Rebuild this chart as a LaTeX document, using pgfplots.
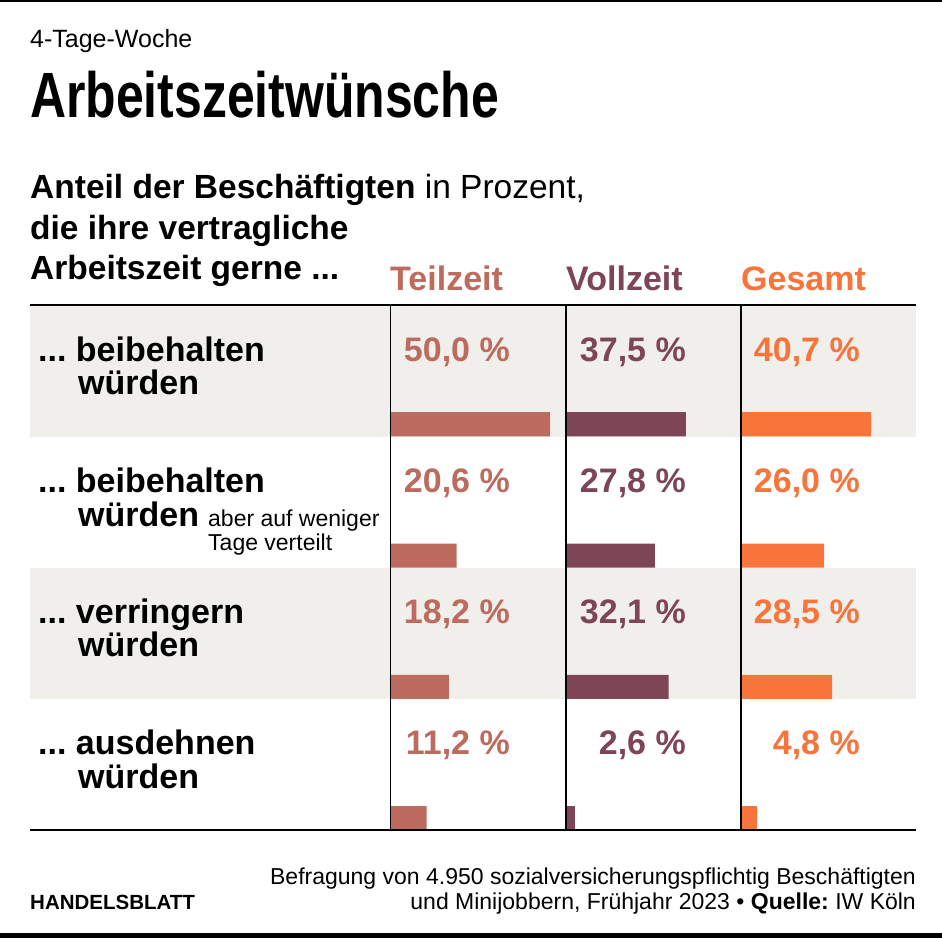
\documentclass[border=0pt]{standalone}
\usepackage{pgfplots}
\pgfplotsset{compat=1.18}
\usepackage{fontspec}
\setmainfont{Liberation Sans}
\frenchspacing
\definecolor{cT}{HTML}{BC6B5E}
\definecolor{cV}{HTML}{7E4556}
\definecolor{cG}{HTML}{F7743A}
\definecolor{band}{HTML}{F0EFEB}
\newcommand{\fs}[1]{\fontsize{#1bp}{#1bp}\selectfont}
\begin{document}
\begin{tikzpicture}[x=1bp,y=1bp]
\useasboundingbox (0,0) rectangle (942,938);
\fill[white] (0,0) rectangle (942,938);
% top and bottom rules
\fill[black] (0,936) rectangle (942,938);
\fill[black] (0,0) rectangle (942,4.5);
% titles
\node[anchor=base west,inner sep=0pt] at (30,890) {\fs{25}4-Tage-Woche};
\node[anchor=base west,inner sep=0pt,xscale=0.78] at (30,820) {\fs{64}\bfseries Arbeitszeitwünsche};
\node[anchor=base west,inner sep=0pt] at (30,739) {\fs{33.5}\textbf{Anteil der Beschäftigten} in Prozent,};
\node[anchor=base west,inner sep=0pt] at (30,698) {\fs{33.5}\bfseries die ihre vertragliche};
\node[anchor=base west,inner sep=0pt] at (30,658) {\fs{33.5}\bfseries Arbeitszeit gerne ...};
% headers
\node[anchor=base west,inner sep=0pt,text=cT] at (390,647) {\fs{34}\bfseries Teilzeit};
\node[anchor=base west,inner sep=0pt,text=cV] at (566,647) {\fs{34}\bfseries Vollzeit};
\node[anchor=base west,inner sep=0pt,text=cG] at (741,647) {\fs{34}\bfseries Gesamt};
% bands
\fill[band] (30,501) rectangle (916,633);
\fill[band] (30,239) rectangle (916,370);
% row labels
\node[anchor=base west,inner sep=0pt] at (38,576) {\fs{34}\bfseries ... beibehalten};
\node[anchor=base west,inner sep=0pt] at (78,543) {\fs{34}\bfseries würden};
\node[anchor=base west,inner sep=0pt] at (38,445) {\fs{34}\bfseries ... beibehalten};
\node[anchor=base west,inner sep=0pt] at (78,411) {\fs{34}\bfseries würden};
\node[anchor=base west,inner sep=0pt] at (208,411) {\fs{23}aber auf weniger};
\node[anchor=base west,inner sep=0pt] at (208,387) {\fs{23}Tage verteilt};
\node[anchor=base west,inner sep=0pt] at (38,314) {\fs{34}\bfseries ... verringern};
\node[anchor=base west,inner sep=0pt] at (78,281) {\fs{34}\bfseries würden};
\node[anchor=base west,inner sep=0pt] at (38,183) {\fs{34}\bfseries ... ausdehnen};
\node[anchor=base west,inner sep=0pt] at (78,149) {\fs{34}\bfseries würden};
% bar axes
\pgfplotsset{rowbars/.style={
  anchor=south west, scale only axis, width=175bp, height=525bp,
  xmin=0, xmax=55, ymin=-0.9086, ymax=3.0914, y dir=reverse,
  hide axis, clip=false, xbar, bar width=0.1829, bar shift=0pt}}
\begin{axis}[rowbars, at={(391bp,108bp)}]
\addplot[fill=cT, draw=none] coordinates {(50.0,0) (20.6,1) (18.2,2) (11.2,3)};
\end{axis}
\begin{axis}[rowbars, at={(566.5bp,108bp)}]
\addplot[fill=cV, draw=none] coordinates {(37.5,0) (27.8,1) (32.1,2) (2.6,3)};
\end{axis}
\begin{axis}[rowbars, at={(741.5bp,108bp)}]
\addplot[fill=cG, draw=none] coordinates {(40.7,0) (26.0,1) (28.5,2) (4.8,3)};
\end{axis}
% values
\foreach \y/\a/\b/\c in {576/{50,0}/{37,5}/{40,7}, 445/{20,6}/{27,8}/{26,0}, 314/{18,2}/{32,1}/{28,5}, 183/{11,2}/{2,6}/{4,8}}{
  \node[anchor=base east,inner sep=0pt,text=cT] at (510,\y) {\fs{34}\bfseries \a\ \%};
  \node[anchor=base east,inner sep=0pt,text=cV] at (686,\y) {\fs{34}\bfseries \b\ \%};
  \node[anchor=base east,inner sep=0pt,text=cG] at (860,\y) {\fs{34}\bfseries \c\ \%};
}
% rules
\draw[line width=1.6bp] (30,633) -- (916,633);
\draw[line width=2bp] (30,108) -- (916,108);
\foreach \x in {390.5,566,741}{\draw[line width=1.6bp] (\x,108) -- (\x,633);}
% footer
\node[anchor=base west,inner sep=0pt] at (30,28) {\fs{20.5}\bfseries HANDELSBLATT};
\node[anchor=base east,inner sep=0pt] at (916,53) {\fs{23}Befragung von 4.950 sozialversicherungspflichtig Beschäftigten};
\node[anchor=base east,inner sep=0pt] at (916,28) {\fs{23}und Minijobbern, Frühjahr 2023 • \textbf{Quelle:} IW Köln};
\end{tikzpicture}
\end{document}
